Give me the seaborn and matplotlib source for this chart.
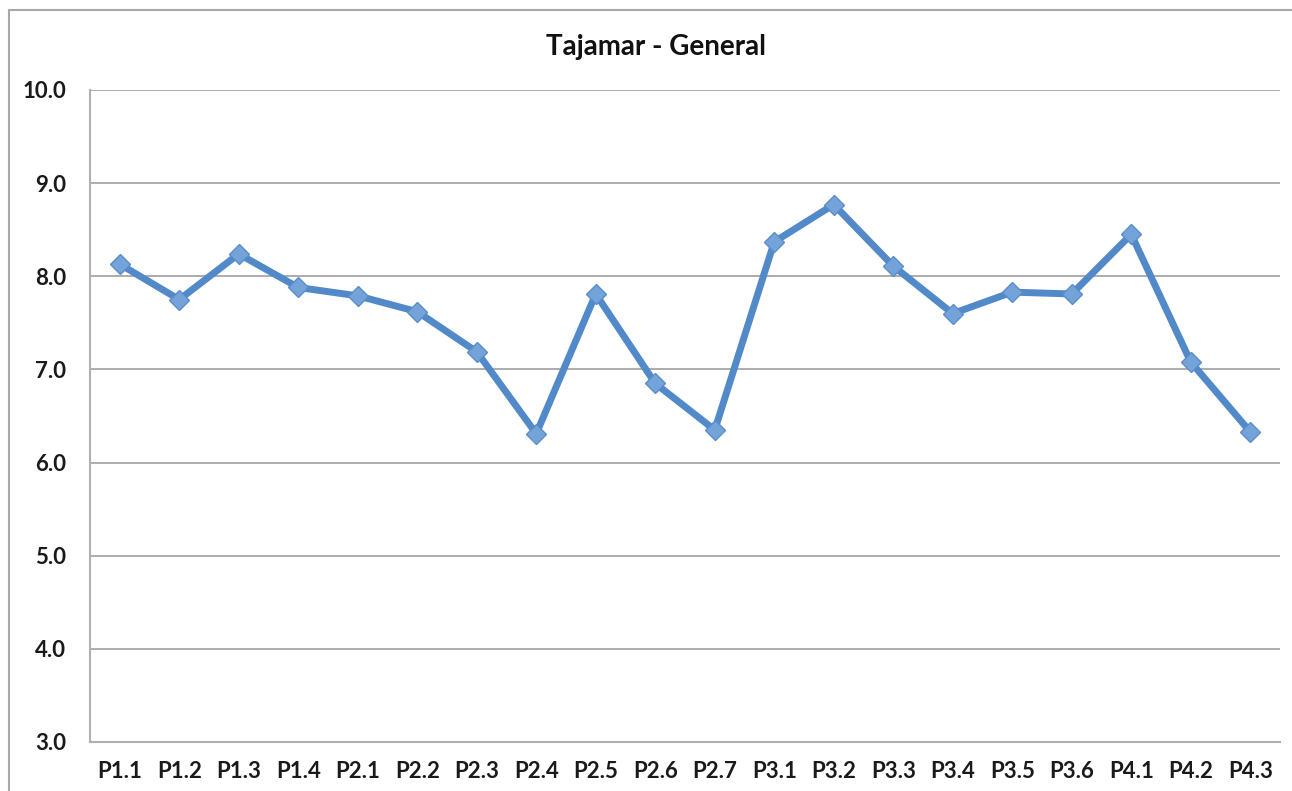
import matplotlib.pyplot as plt
import pandas as pd
import seaborn as sns
from matplotlib.lines import Line2D

# Данные графика
categories = ["P1.1", "P1.2", "P1.3", "P1.4", "P2.1", "P2.2", "P2.3", "P2.4", "P2.5", "P2.6",
              "P2.7", "P3.1", "P3.2", "P3.3", "P3.4", "P3.5", "P3.6", "P4.1", "P4.2", "P4.3"]
scores = [8.13, 7.75, 8.24, 7.88, 7.79, 7.62, 7.19, 6.31, 7.81, 6.85,
          6.35, 8.37, 8.77, 8.11, 7.60, 7.83, 7.81, 8.45, 7.08, 6.33]
y_ticks = [3, 4, 5, 6, 7, 8, 9, 10]
title = "Tajamar - General"

df = pd.DataFrame({"pos": range(len(categories)), "score": scores})

sns.set_theme(style="white")
plt.rcParams['font.family'] = ['Lato', 'DejaVu Sans']

fig = plt.figure(figsize=(12.92, 7.91), dpi=100)
ax = fig.add_axes([90 / 1292, 1 - 742 / 791, 1190 / 1292, 652 / 791])

blue = "#5289C9"
sns.lineplot(data=df, x="pos", y="score", ax=ax, color=blue, linewidth=5,
             marker="D", markersize=10, markerfacecolor="#74A3DA",
             markeredgecolor="#5A8DCB", markeredgewidth=1.0, zorder=3)

ax.set_xlim(-0.5, len(categories) - 0.5)
ax.set_ylim(3, 10)
ax.set_yticks(y_ticks)
ax.set_yticklabels([f"{v:.1f}" for v in y_ticks])
ax.set_xticks(range(len(categories)))
ax.set_xticklabels(categories)
ax.set_xlabel("")
ax.set_ylabel("")

for v in y_ticks[1:]:
    ax.axhline(v, color="#A6A6A6", linewidth=1.3, zorder=1)

for side in ["top", "right"]:
    ax.spines[side].set_visible(False)
for side in ["left", "bottom"]:
    ax.spines[side].set_color("#B0B0B0")
    ax.spines[side].set_linewidth(1.5)

ax.tick_params(axis="both", which="major", direction="out", length=7, width=1.3,
               color="#B0B0B0", labelsize=16, labelcolor="#1A1A1A", pad=7)
ax.tick_params(axis="y", pad=10)
for lbl in ax.get_xticklabels() + ax.get_yticklabels():
    lbl.set_fontweight("bold")

fig.text(656 / 1292, 1 - 47 / 791, title, ha="center", va="center",
         fontsize=20, fontweight="bold", color="#111111")

# Рамка вокруг диаграммы (видны только верх и лево)
fig.add_artist(Line2D([9 / 1292, 9 / 1292], [0, 1 - 10 / 791], transform=fig.transFigure,
                      color="#A8A8A8", linewidth=1.5))
fig.add_artist(Line2D([9 / 1292, 1], [1 - 10 / 791, 1 - 10 / 791], transform=fig.transFigure,
                      color="#A8A8A8", linewidth=1.5))

fig.savefig("out.png", dpi=100, facecolor="white")
